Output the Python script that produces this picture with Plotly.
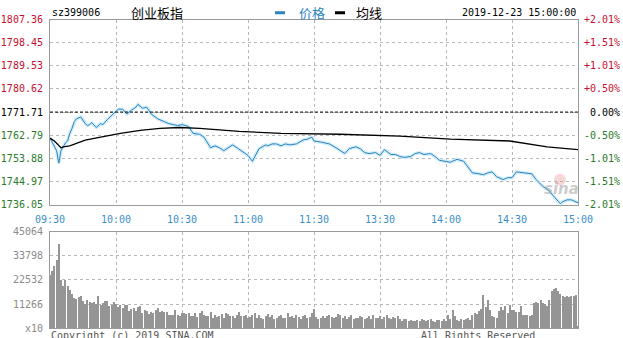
import plotly.graph_objects as go

# ---------------- data ----------------
prev_close = 1771.71
y_ticks = [1736.05, 1744.97, 1753.88, 1762.79, 1771.71, 1780.62, 1789.53, 1798.45, 1807.36]
pct_ticks = ["-2.01%", "-1.51%", "-1.01%", "-0.50%", "\u00a00.00%", "+0.50%", "+1.01%", "+1.51%", "+2.01%"]
time_ticks = [0, 30, 60, 90, 120, 150, 180, 210, 240]
time_labels = ["09:30", "10:00", "10:30", "11:00", "11:30", "13:30", "14:00", "14:30", "15:00"]
vol_ticks = [0, 11266, 22532, 33798, 45064]
vol_labels = ["x10", "11266", "22532", "33798", "45064"]

price_min = [0, 2, 3, 4, 5, 7, 8, 9, 10, 11, 12, 14, 16, 17, 18, 19, 21, 23, 24, 26, 29, 31, 33, 35, 37, 39,
             40, 42, 44, 46, 49, 51, 54, 56, 58, 60, 63, 65, 68, 70, 73, 75, 77, 79, 81, 83, 85, 87, 90, 92,
             93, 95, 98, 99, 101, 103, 105, 107, 109, 112, 115, 117, 119, 120, 123, 125, 127, 130, 132, 134,
             136, 139, 141, 143, 145, 148, 150, 152, 155, 157, 159, 161, 164, 166, 168, 170, 173, 175, 177,
             180, 182, 183, 185, 188, 190, 192, 195, 197, 199, 201, 203, 206, 208, 210, 212, 215, 217, 219,
             221, 224, 226, 227, 230, 232, 233, 235, 237, 239, 240]
price_val = [1761.68, 1758.71, 1756.85, 1752.03, 1756.85, 1759.83, 1760.57, 1763.54, 1765.40, 1768.00,
             1769.11, 1769.85, 1767.25, 1766.51, 1766.88, 1767.62, 1765.77, 1767.25, 1766.88, 1768.74,
             1770.97, 1772.82, 1772.82, 1770.97, 1772.45, 1773.57, 1774.68, 1773.20, 1773.57, 1770.97,
             1769.11, 1768.37, 1767.25, 1766.88, 1766.51, 1766.88, 1766.14, 1763.54, 1763.17, 1762.05,
             1757.97, 1758.71, 1757.97, 1756.85, 1757.97, 1759.08, 1757.97, 1756.85, 1755.00, 1752.77,
             1754.25, 1757.60, 1759.08, 1758.71, 1759.45, 1759.45, 1758.71, 1759.45, 1759.08, 1759.45,
             1760.94, 1761.31, 1762.05, 1760.57, 1760.20, 1759.83, 1759.45, 1757.97, 1756.85, 1755.74,
             1757.60, 1758.34, 1757.60, 1756.11, 1755.74, 1756.11, 1755.00, 1757.23, 1755.37, 1755.37,
             1754.63, 1754.25, 1754.63, 1755.74, 1756.11, 1755.37, 1755.74, 1754.63, 1753.14, 1752.77,
             1752.40, 1752.77, 1753.51, 1752.77, 1750.54, 1748.31, 1747.94, 1747.57, 1748.31, 1748.68,
             1746.83, 1745.71, 1746.45, 1746.45, 1748.68, 1748.31, 1748.31, 1747.94, 1745.71, 1743.11,
             1741.99, 1741.25, 1738.28, 1736.43, 1737.17, 1737.91, 1737.91, 1737.17, 1736.80]

avg_min = [0, 2, 5, 6, 9, 16, 23, 32, 41, 50, 59, 68, 86, 105, 132, 150, 159, 182, 209, 226, 240]
avg_val = [1761.68, 1760.57, 1757.97, 1758.34, 1758.71, 1760.94, 1762.05, 1763.54, 1764.65, 1765.40,
           1765.77, 1765.40, 1764.28, 1763.54, 1763.17, 1762.80, 1762.43, 1761.31, 1760.57, 1758.34, 1757.23]

volume = [24800, 27000, 29400, 32000, 39600, 22500, 19800, 22500, 19800, 18000,
          16000, 14300, 13800, 14600, 15200, 12800, 11500, 13200, 12500, 11900,
          12300, 11200, 15000, 11000, 12000, 13000, 12600, 10500, 11000, 12400,
          11400, 10200, 10800, 9400, 10900, 11000, 8200, 8900, 9400, 8100,
          9800, 10300, 7200, 8600, 8000, 6900, 7500, 7000, 8800, 9600,
          7800, 8300, 7700, 7900, 6200, 6100, 6400, 8800, 6300, 5900,
          7000, 7200, 6800, 7300, 5600, 6000, 7400, 5500, 7000, 8000,
          6100, 5900, 5800, 7600, 5100, 6200, 5300, 5900, 6800, 5000,
          7100, 6600, 5600, 6000, 4700, 6500, 7500, 5600, 5800, 6400,
          4800, 5400, 6200, 7100, 5000, 6400, 4900, 4600, 5800, 6800,
          5300, 6100, 4400, 5000, 5700, 6300, 4700, 5100, 7200, 5200,
          5800, 4900, 6400, 5500, 4600, 5900, 6100, 5000, 5300, 7000,
          9000, 5400, 4300, 5000, 5600, 4700, 6000, 6500, 5200, 4800,
          5500, 6700, 6200, 5100, 6000, 4300, 5300, 6100, 4500, 5000,
          4800, 5900, 5200, 4200, 5000, 5600, 4400, 6200, 5100, 4900,
          5700, 4600, 5400, 6400, 5000, 4400, 5200, 4900, 6000, 4500,
          3600, 4600, 4200, 3500, 4100, 3400, 3300, 4000, 3600, 4200,
          3800, 3500, 4000, 4400, 3400, 3200, 3800, 4000, 3700, 4300,
          3600, 6300, 4500, 8500, 5800, 4000, 3600, 4200, 3800, 4600,
          5000, 4100, 6500, 7300, 6800, 8000, 9200, 15800, 9800, 13200,
          8500, 6000, 5300, 4700, 8200, 10000, 8800, 10400, 7200, 11000,
          8800, 8600, 7700, 7700, 10500, 6300, 6300, 6300, 5800, 6300,
          12000, 12500, 11800, 13200, 12000, 11500, 10500, 13400, 17600, 18400,
          18900, 17600, 16200, 15000, 14800, 15000, 14600, 15200, 15000, 15400,
          1200]
vol_min = list(range(len(volume)))

# ---------------- styles ----------------
W, H = 623, 338
L, R = 50, 578
MONO = "DejaVu Sans Mono"
CJK = "Noto Sans CJK SC"
BLUE = "#2a84c0"
RED = "#c8102e"
GREEN = "#2a7a2a"
GRID = "#b8b8b8"
FRAME = "#9a9a9a"


def px_x(p):
    return (p - L) / (R - L)


def px_y(p):
    return 1 - p / H


left_text = []
for v in y_ticks:
    c = RED if v > prev_close + 0.01 else (GREEN if v < prev_close - 0.01 else "#000000")
    left_text.append(f'<span style="color:{c}">{v:.2f}</span>')
right_text = []
for v, t in zip(y_ticks, pct_ticks):
    c = RED if v > prev_close + 0.01 else (GREEN if v < prev_close - 0.01 else "#000000")
    right_text.append(f'<span style="color:{c}">{t}</span>')

fig = go.Figure()
fig.add_trace(go.Scatter(x=price_min, y=price_val, mode="lines",
                         line=dict(color="#d2ecf8", width=3.5), xaxis="x", yaxis="y", hoverinfo="skip"))
fig.add_trace(go.Scatter(x=price_min, y=price_val, mode="lines",
                         line=dict(color=BLUE, width=1), xaxis="x", yaxis="y", name="价格"))
fig.add_trace(go.Scatter(x=avg_min, y=avg_val, mode="lines",
                         line=dict(color="#000000", width=1.3), xaxis="x", yaxis="y", name="均线"))
fig.add_trace(go.Bar(x=vol_min, y=volume, width=0.4, marker=dict(color="#959595", line=dict(width=0)),
                     xaxis="x2", yaxis="y3"))
# invisible trace to activate right axis
fig.add_trace(go.Scatter(x=[0, 240], y=[y_ticks[0], y_ticks[-1]], mode="lines",
                         line=dict(width=0), opacity=0, xaxis="x", yaxis="y2", hoverinfo="skip"))

fig.add_hline(y=prev_close, line=dict(color="#000000", width=1, dash="3px,2px"), xref="x", yref="y")

axis_common = dict(showline=True, mirror=True, linecolor=FRAME, linewidth=1,
                   gridcolor=GRID, griddash="dot", gridwidth=1, zeroline=False)

fig.update_layout(
    width=W, height=H,
    margin=dict(l=L, r=W - R, t=0, b=0),
    paper_bgcolor="white", plot_bgcolor="white",
    showlegend=False, bargap=0,
    xaxis=dict(domain=[0, 1], range=[0, 240], anchor="y", tickvals=time_ticks, ticktext=time_labels,
               ticks="outside", ticklen=5, tickcolor="rgba(0,0,0,0)",
               tickfont=dict(family=MONO, size=10, color="#3a8fc8"), showgrid=True, **axis_common),
    yaxis=dict(domain=[px_y(206), px_y(14)], range=[y_ticks[0], y_ticks[-1]], tickvals=y_ticks,
               ticktext=left_text, ticks="outside", ticklen=4, tickcolor="rgba(0,0,0,0)",
               tickfont=dict(family=MONO, size=10), showgrid=True, **axis_common),
    yaxis2=dict(overlaying="y", side="right", anchor="x", range=[y_ticks[0], y_ticks[-1]],
                tickvals=y_ticks, ticktext=right_text, ticks="outside", ticklen=3,
                tickcolor="rgba(0,0,0,0)", tickfont=dict(family=MONO, size=10), showgrid=False,
                showline=False, zeroline=False),
    xaxis2=dict(domain=[0, 1], range=[0, 240], anchor="y3", tickvals=time_ticks, showticklabels=False,
                showgrid=True, **axis_common),
    yaxis3=dict(domain=[px_y(334), px_y(234)], range=[0, vol_ticks[-1]], tickvals=vol_ticks,
                ticktext=vol_labels, ticks="outside", ticklen=4, tickcolor="rgba(0,0,0,0)",
                tickfont=dict(family=MONO, size=10, color="#8a8a8a"), showgrid=True, anchor="x2",
                **axis_common),
)

annos = [
    dict(text="sz399006", x=px_x(50), y=px_y(7), xanchor="left", font=dict(family=MONO, size=10, color="#000")),
    dict(text="创业板指", x=px_x(129), y=px_y(7), xanchor="left", font=dict(family=CJK, size=13, color="#000")),
    dict(text="价格", x=px_x(297), y=px_y(7), xanchor="left", font=dict(family=CJK, size=13, color=BLUE)),
    dict(text="均线", x=px_x(354), y=px_y(7), xanchor="left", font=dict(family=CJK, size=13, color="#000")),
    dict(text="2019-12-23 15:00:00", x=px_x(578), y=px_y(7), xanchor="right",
         font=dict(family=MONO, size=10, color="#000")),
    dict(text="<b><i>sina</i></b>", x=px_x(561), y=px_y(190), xanchor="center",
         font=dict(family="DejaVu Sans", size=15, color="rgba(160,160,160,0.55)")),
    dict(text="Copyright (c) 2019 SINA.COM", x=px_x(49), y=px_y(334), xanchor="left", yanchor="top",
         font=dict(family=MONO, size=10, color="#555")),
    dict(text="All Rights Reserved", x=px_x(419), y=px_y(334), xanchor="left", yanchor="top",
         font=dict(family=MONO, size=10, color="#555")),
]
for a in annos:
    a.setdefault("yanchor", "middle")
    fig.add_annotation(xref="paper", yref="paper", showarrow=False, **a)

# legend swatches
for x0, x1, col in [(275, 285, BLUE), (335, 345, "#000000")]:
    fig.add_shape(type="line", xref="paper", yref="paper", x0=px_x(x0), x1=px_x(x1),
                  y0=px_y(7), y1=px_y(7), line=dict(color=col, width=3))
# faint sina logo eye
fig.add_shape(type="circle", xref="paper", yref="paper", x0=px_x(554), x1=px_x(566),
              y0=px_y(186), y1=px_y(174), line=dict(width=0), fillcolor="rgba(230,140,140,0.35)")

fig.write_html("out.html")
